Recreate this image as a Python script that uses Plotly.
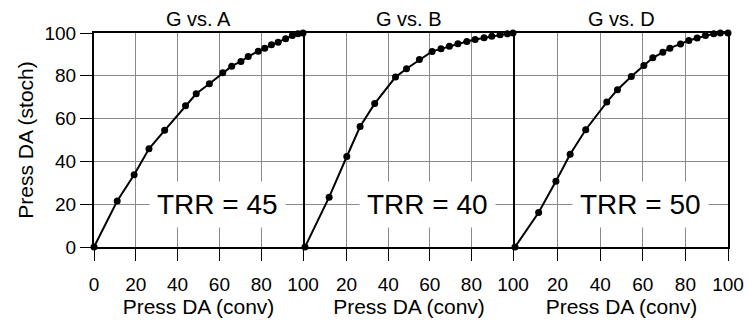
import plotly.graph_objects as go

# ---- data ----
titles = ["G vs. A", "G vs. B", "G vs. D"]
trr_labels = ["TRR = 45", "TRR = 40", "TRR = 50"]

conv_a = [0, 11.1, 19.2, 26.3, 33.8, 43.8, 48.9, 55.2, 61.6, 65.9, 70.3, 73.8, 78.6, 81.7, 84.9, 88.1, 91.7, 94.9, 97.6, 100]
stoch_a = [0, 21.5, 33.8, 45.9, 54.5, 66.0, 71.6, 76.3, 81.4, 84.5, 86.7, 89.0, 91.5, 92.9, 94.5, 95.7, 97.3, 98.8, 99.6, 100]

conv_b = [0, 11.6, 20.1, 26.5, 33.5, 43.5, 48.8, 55.0, 61.1, 65.4, 69.4, 73.5, 77.8, 81.8, 86.1, 89.8, 93.8, 97.3, 100]
stoch_b = [0, 23.3, 42.3, 56.3, 67.0, 79.4, 83.3, 87.6, 91.4, 92.6, 93.8, 95.0, 96.0, 97.0, 97.8, 98.5, 99.2, 99.6, 100]

conv_d = [0, 11.1, 19.2, 25.9, 33.2, 43.1, 48.1, 54.6, 60.5, 64.7, 69.4, 72.7, 77.7, 81.6, 85.5, 89.4, 93.3, 96.4, 100]
stoch_d = [0, 16.1, 30.7, 43.3, 54.8, 67.7, 73.5, 79.7, 84.8, 88.4, 91.0, 92.9, 94.9, 96.5, 97.7, 98.8, 99.6, 100, 100]

x_ticks_first = [0, 20, 40, 60, 80, 100]
x_ticks_other = [20, 40, 60, 80, 100]
y_ticks = [0, 20, 40, 60, 80, 100]

series = [(conv_a, stoch_a), (conv_b, stoch_b), (conv_d, stoch_d)]

FONT = "Liberation Sans, Arial, Helvetica, sans-serif"

fig = go.Figure()
for i, (xs, ys) in enumerate(series):
    sfx = "" if i == 0 else str(i + 1)
    fig.add_trace(go.Scatter(
        x=xs, y=ys, mode="lines+markers",
        line=dict(color="black", width=2),
        marker=dict(color="black", size=7),
        cliponaxis=False, showlegend=False,
        xaxis="x" + sfx, yaxis="y" + sfx,
    ))

W = 634.0
domains = [(0.0, 209 / W), (211 / W, 419 / W), (421 / W, 1.0)]
common_x = dict(range=[0, 100], showgrid=True, gridcolor="#8a8a8a", gridwidth=1,
                showline=True, linecolor="black", linewidth=2, mirror=True,
                ticks="outside", ticklen=12, tickwidth=1, tickcolor="black",
                ticklabelstandoff=7, automargin=False,
                tickfont=dict(size=19, color="black", family=FONT), zeroline=False,
                title=dict(text="Press DA (conv)", font=dict(size=21, color="black", family=FONT), standoff=5))
common_y = dict(range=[0, 100], showgrid=True, gridcolor="#8a8a8a", gridwidth=1,
                showline=True, linecolor="black", linewidth=2, mirror=True,
                zeroline=False, tickvals=y_ticks, automargin=False)

layout = dict(
    width=748, height=321,
    margin=dict(l=94, r=20, t=33, b=74),
    plot_bgcolor="white", paper_bgcolor="white",
    font=dict(family=FONT, color="black"),
)
for i in range(3):
    sfx = "" if i == 0 else str(i + 1)
    xa = dict(common_x)
    xa["domain"] = list(domains[i])
    xa["tickvals"] = x_ticks_first if i == 0 else x_ticks_other
    xa["anchor"] = "y" + sfx
    ya = dict(common_y)
    ya["anchor"] = "x" + sfx
    if i == 0:
        ya.update(ticks="outside", ticklen=12, tickwidth=1, tickcolor="black",
                  tickfont=dict(size=19, color="black", family=FONT),
                  title=dict(text="Press DA (stoch)", font=dict(size=21, color="black", family=FONT), standoff=5))
    else:
        ya.update(ticks="", showticklabels=False)
    layout["xaxis" + sfx] = xa
    layout["yaxis" + sfx] = ya

fig.update_layout(**layout)

for i in range(3):
    sfx = "" if i == 0 else str(i + 1)
    fig.add_annotation(x=50, y=100, xref="x" + sfx, yref="y" + sfx, text=titles[i],
                       showarrow=False, yanchor="bottom", yshift=1,
                       font=dict(size=20, color="black", family=FONT))
    fig.add_annotation(x=59, y=20, xref="x" + sfx, yref="y" + sfx, text=trr_labels[i],
                       showarrow=False, bgcolor="white", borderpad=7,
                       font=dict(size=28, color="black", family=FONT))

fig.write_html("out.html")
